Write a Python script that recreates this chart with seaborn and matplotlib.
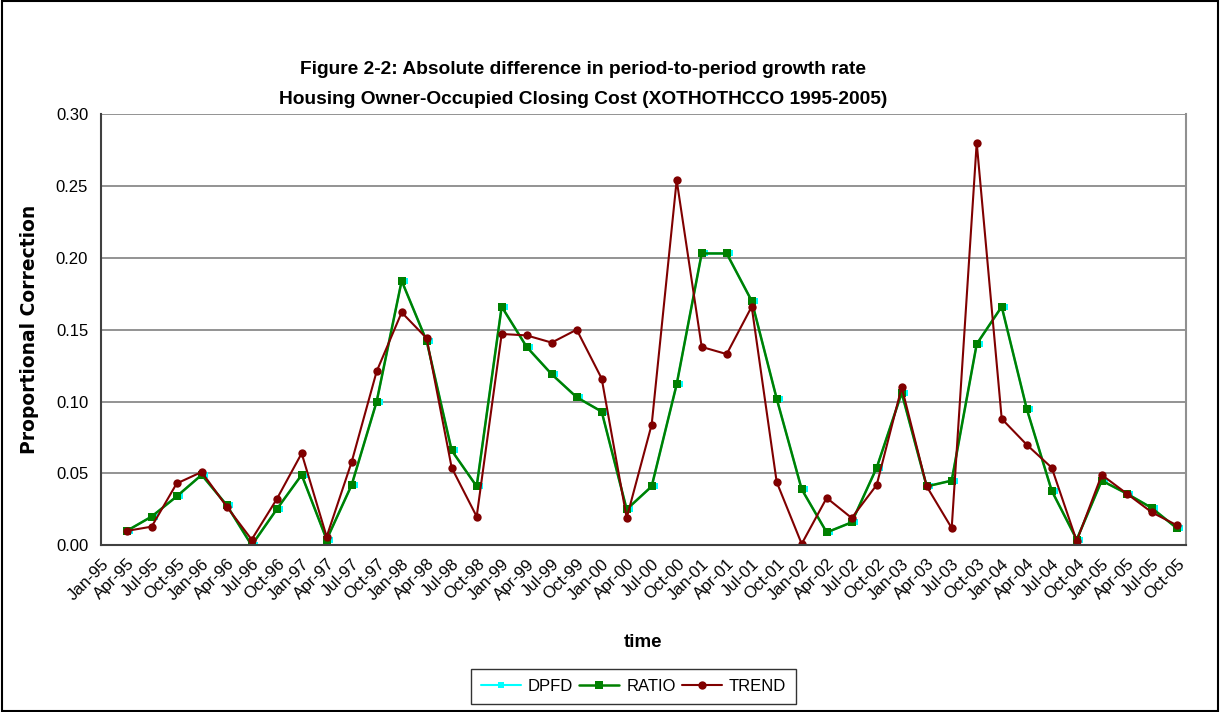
import matplotlib
matplotlib.use("Agg")
import matplotlib.pyplot as plt
import matplotlib.transforms as mtransforms
from matplotlib.patches import Rectangle
import seaborn as sns
import pandas as pd

# quarter labels on the category axis
QUARTERS = ["Jan", "Apr", "Jul", "Oct"]
TICK_LABELS = [f"{q}-{y:02d}" for y in list(range(95, 100)) + list(range(0, 6)) for q in QUARTERS]

# series start at Apr-95 (position 1)
ratio = [0.010, 0.020, 0.034, 0.049, 0.028, 0.000, 0.025, 0.049, 0.004, 0.042,
         0.100, 0.184, 0.142, 0.066, 0.041, 0.166, 0.138, 0.119, 0.103, 0.093,
         0.025, 0.041, 0.112, 0.203, 0.203, 0.170, 0.102, 0.039, 0.009, 0.016,
         0.054, 0.106, 0.041, 0.045, 0.140, 0.166, 0.095, 0.038, 0.004, 0.045,
         0.036, 0.026, 0.012]
dpfd = [0.010, 0.020, 0.034, 0.049, 0.028, 0.000, 0.025, 0.049, 0.004, 0.042,
        0.100, 0.184, 0.142, 0.066, 0.041, 0.166, 0.138, 0.119, 0.103, 0.093,
        0.025, 0.041, 0.112, 0.203, 0.203, 0.170, 0.102, 0.039, 0.009, 0.016,
        0.054, 0.106, 0.041, 0.045, 0.140, 0.166, 0.095, 0.038, 0.004, 0.045,
        0.036, 0.026, 0.012]
trend = [0.010, 0.013, 0.043, 0.051, 0.027, 0.004, 0.032, 0.064, 0.006, 0.058,
         0.121, 0.162, 0.144, 0.054, 0.020, 0.147, 0.146, 0.141, 0.150, 0.116,
         0.019, 0.084, 0.254, 0.138, 0.133, 0.166, 0.044, 0.001, 0.033, 0.019,
         0.042, 0.110, 0.041, 0.012, 0.280, 0.088, 0.070, 0.054, 0.003, 0.049,
         0.036, 0.023, 0.014]

pos = list(range(1, 1 + len(ratio)))
df = pd.DataFrame({"pos": pos, "DPFD": dpfd, "RATIO": ratio, "TREND": trend})

sns.set_style("white")
plt.rcParams["font.family"] = ["Liberation Sans", "DejaVu Sans"]
for key in ["text.color", "axes.labelcolor", "xtick.color", "ytick.color"]:
    plt.rcParams[key] = "black"

fig = plt.figure(figsize=(12.2, 7.12), dpi=100)
ax = fig.add_axes([0.0825, 0.2341, 0.8894, 0.6058])

sns.lineplot(data=df, x="pos", y="DPFD", ax=ax, color="#00FFFF", linewidth=1.5,
             marker="s", markersize=4, markeredgewidth=0, label="DPFD")
# DPFD marker peeks out a few pixels right of the RATIO marker in the original
shift = mtransforms.offset_copy(ax.transData, fig=fig, x=3, y=0, units="dots")
sns.scatterplot(data=df, x="pos", y="DPFD", ax=ax, color="#00FFFF", marker="s", s=22,
                linewidth=0, transform=shift, legend=False)
sns.lineplot(data=df, x="pos", y="RATIO", ax=ax, color="#008000", linewidth=1.8,
             marker="s", markersize=6, markeredgewidth=0, label="RATIO")
sns.lineplot(data=df, x="pos", y="TREND", ax=ax, color="#800000", linewidth=1.5,
             marker="o", markersize=6, markeredgewidth=0, label="TREND")

ax.set_xlim(-0.04, 43.36)
ax.set_ylim(0, 0.30)
ax.set_yticks([0.0, 0.05, 0.10, 0.15, 0.20, 0.25, 0.30])
ax.set_yticklabels([f"{v:.2f}" for v in ax.get_yticks()], fontsize=12)
ax.set_xticks(range(len(TICK_LABELS)))
ax.set_xticklabels(TICK_LABELS, rotation=45, ha="right", rotation_mode="anchor", fontsize=12)
ax.tick_params(axis="both", direction="out", length=5, width=1, color="#404040", pad=3)
ax.tick_params(axis="y", pad=4)
ax.grid(axis="y", color="#808080", linewidth=1.2)
ax.set_axisbelow(True)

for side in ["left", "bottom"]:
    ax.spines[side].set_color("#404040")
    ax.spines[side].set_linewidth(1.5)
ax.spines["right"].set_color("#909090")
ax.spines["right"].set_linewidth(1.5)
ax.spines["top"].set_visible(False)

ax.set_xlabel("time", fontsize=13.5, fontweight="bold", labelpad=22)
ax.set_ylabel("Proportional Correction", fontsize=13.5, fontweight="bold", family="DejaVu Sans")
ax.yaxis.set_label_coords(-0.057, 0.5)

fig.text(0.478, 0.9017, "Figure 2-2: Absolute difference in period-to-period growth rate",
         ha="center", va="center", fontsize=13.8, fontweight="bold")
fig.text(0.478, 0.8596, "Housing Owner-Occupied Closing Cost (XOTHOTHCCO 1995-2005)",
         ha="center", va="center", fontsize=13.8, fontweight="bold")

leg = ax.legend(loc="center", bbox_to_anchor=(0.5193, 0.036), bbox_transform=fig.transFigure,
                ncol=3, frameon=True, fancybox=False, fontsize=12, handlelength=2.4,
                columnspacing=0.4, handletextpad=0.4, borderpad=0.6)
leg.get_frame().set_edgecolor("#000000")
leg.get_frame().set_linewidth(1)

fig.patches.append(Rectangle((0.002, 0.002), 0.996, 0.996, transform=fig.transFigure,
                             fill=False, edgecolor="black", linewidth=1.5))

fig.savefig("out.png", dpi=100)
